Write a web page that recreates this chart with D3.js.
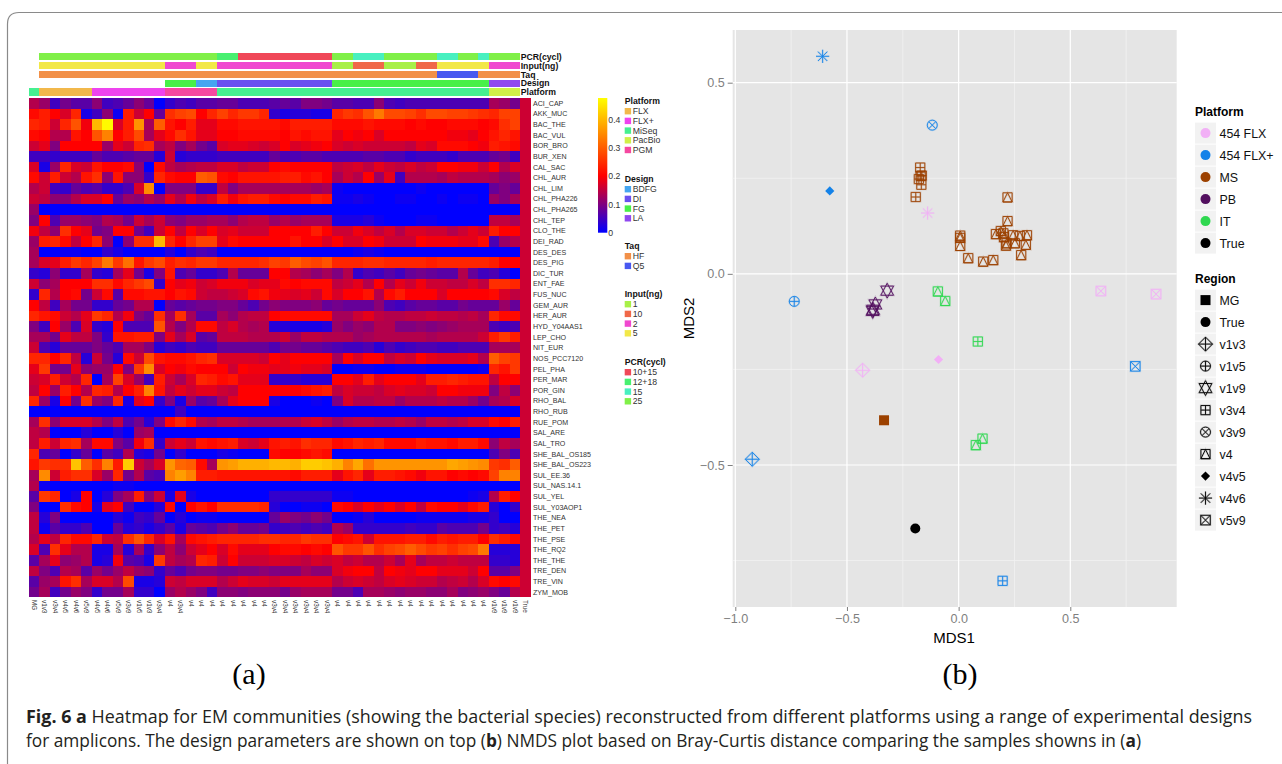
<!DOCTYPE html>
<html>
<head>
<meta charset="utf-8">
<script src="https://cdn.jsdelivr.net/npm/d3@7"></script>
<style>
  html, body { margin: 0; padding: 0; background: #fff; }
  svg { display: block; }
  text { font-family: "Liberation Sans", Arial, sans-serif; }
</style>
</head>
<body>
<script>
const w = 1282, h = 764;

// heatmap rows, top to bottom
const species = ["ACI_CAP","AKK_MUC","BAC_THE","BAC_VUL","BOR_BRO","BUR_XEN","CAL_SAC","CHL_AUR","CHL_LIM","CHL_PHA226","CHL_PHA265","CHL_TEP","CLO_THE","DEI_RAD","DES_DES","DES_PIG","DIC_TUR","ENT_FAE","FUS_NUC","GEM_AUR","HER_AUR","HYD_Y04AAS1","LEP_CHO","NIT_EUR","NOS_PCC7120","PEL_PHA","PER_MAR","POR_GIN","RHO_BAL","RHO_RUB","RUE_POM","SAL_ARE","SAL_TRO","SHE_BAL_OS185","SHE_BAL_OS223","SUL_EE.36","SUL_NAS.14.1","SUL_YEL","SUL_Y03AOP1","THE_NEA","THE_PET","THE_PSE","THE_RQ2","THE_THE","TRE_DEN","TRE_VIN","ZYM_MOB"];

// heatmap columns, left to right
const samples = ["MG","v1v3","v3v4","v4v5","v4v6","v5v9","v4v5","v4v6","v5v9","v3v9","v1v5","v1v3","v3v4","v4","v3v4","v4","v4","v4","v4","v4","v4","v4","v4","v3v4","v3v4","v3v4","v3v4","v3v4","v3v4","v4","v4","v4","v4","v4","v4","v4","v4","v4","v4","v4","v4","v4","v4","v4","v1v9","v1v9","v1v9","True"];

// relative abundance x 100, one row per species
const abundance = [
[14,12,5,9,7,7,11,5,6,8,11,8,0,4,6,5,7,7,8,8,6,6,6,7,8,7,10,10,9,7,7,6,6,11,6,5,6,6,6,6,6,6,6,6,13,12,9,16],
[21,23,20,17,24,2,5,11,1,23,16,20,8,25,27,28,20,24,27,24,26,26,24,4,2,3,3,2,2,24,26,25,29,33,28,28,27,25,28,28,27,27,26,25,24,27,27,16],
[24,23,16,24,29,19,40,47,17,23,36,13,30,22,20,23,18,18,21,21,22,22,22,22,21,23,23,23,23,21,21,21,22,21,21,21,20,21,20,20,21,21,21,20,21,25,27,16],
[21,20,14,14,22,20,29,34,20,23,28,13,18,21,25,22,18,18,20,20,21,21,21,21,20,22,21,22,22,18,20,19,20,17,20,20,20,20,20,20,19,19,18,20,22,24,22,16],
[16,18,10,20,20,20,20,12,18,16,24,25,13,15,10,13,9,7,17,18,18,17,16,17,20,17,18,19,20,17,16,17,16,16,16,16,15,18,17,21,21,21,20,19,23,22,21,16],
[5,5,4,5,5,5,8,6,6,7,8,8,3,16,3,4,4,4,5,5,5,5,5,8,6,6,7,7,6,6,6,6,7,7,6,6,4,5,5,5,4,6,6,6,8,9,5,16],
[17,2,12,24,17,16,22,20,20,21,11,0,21,15,13,14,15,15,17,17,15,16,16,20,21,20,20,20,20,15,16,17,15,18,16,15,17,15,16,20,20,19,19,16,20,14,17,16],
[21,16,23,16,14,22,25,11,22,11,11,4,24,21,20,20,30,29,21,20,22,22,22,22,23,23,21,22,20,13,16,14,20,12,18,5,14,14,14,13,15,14,14,14,13,11,12,16],
[14,16,5,4,8,6,7,4,4,6,17,35,0,10,10,10,4,4,15,10,13,13,13,13,13,13,13,12,13,1,0,0,0,0,0,0,0,1,0,0,0,0,0,0,8,10,8,16],
[16,15,11,11,14,17,17,20,8,12,11,14,12,18,14,19,15,17,23,19,22,23,23,21,20,21,21,23,22,1,1,2,1,0,0,1,1,0,0,1,0,1,1,0,12,10,13,16],
[12,0,0,0,0,0,0,0,0,0,0,0,0,0,0,0,0,0,0,0,0,0,0,0,0,0,0,0,0,0,0,0,0,0,0,0,0,0,0,0,0,0,0,0,0,0,0,16],
[10,20,6,12,12,11,10,14,13,9,16,13,16,11,10,12,12,13,13,11,14,15,15,12,14,12,13,13,13,2,2,2,3,1,0,0,0,1,1,0,0,0,0,0,15,15,13,16],
[19,15,11,25,20,18,9,10,20,20,9,5,16,20,15,20,17,20,17,18,16,16,16,20,20,20,20,23,20,16,16,19,17,15,17,14,17,17,16,16,14,16,18,16,23,20,20,16],
[12,23,24,21,15,20,24,11,0,11,25,25,40,24,20,24,27,27,18,21,20,20,20,20,20,22,20,20,17,20,17,17,20,19,16,16,16,20,19,19,19,18,18,21,6,12,14,16],
[13,0,0,1,1,0,0,4,2,0,0,0,0,3,0,4,6,5,0,0,0,0,0,0,0,0,0,0,0,0,0,1,2,1,0,0,0,0,0,0,0,0,0,0,0,0,0,16],
[13,17,18,23,26,24,27,33,26,32,22,26,28,23,25,24,26,26,24,24,24,24,25,27,26,30,28,27,29,24,24,24,25,25,24,24,24,24,23,24,24,24,24,24,23,20,20,16],
[4,3,11,4,4,13,4,3,13,18,9,2,10,22,6,8,4,4,6,14,8,8,8,20,20,14,13,11,13,10,14,4,6,5,7,5,8,9,8,7,7,14,8,5,6,3,0,16],
[16,11,13,20,20,20,25,25,21,24,26,28,4,20,18,19,16,17,19,19,19,17,18,18,21,20,21,21,21,15,16,18,14,20,14,18,16,19,16,16,15,15,17,15,25,25,24,16],
[4,24,14,20,21,9,16,21,7,21,21,22,22,20,22,21,16,15,15,16,17,21,22,19,18,17,18,16,21,17,20,20,22,14,21,23,20,20,20,17,20,20,20,20,21,17,15,16],
[20,15,5,13,9,9,4,4,8,9,14,14,0,8,7,8,9,9,10,10,8,6,9,11,10,10,10,11,8,9,8,8,8,11,6,5,7,8,8,7,7,9,8,8,8,12,8,16],
[24,22,21,16,14,18,26,24,14,19,10,8,25,13,25,13,7,7,13,11,14,15,15,20,21,21,21,21,21,13,13,16,18,15,14,14,15,15,16,15,15,14,15,13,24,21,21,16],
[10,5,20,12,6,17,4,3,20,6,6,6,29,14,10,14,21,21,15,17,14,13,14,3,3,2,2,2,3,12,10,12,11,14,14,10,10,11,10,11,12,13,13,13,6,5,6,16],
[13,13,9,18,15,15,10,4,22,22,23,23,10,18,13,17,7,8,15,15,15,14,14,14,16,12,15,15,14,14,14,12,13,14,14,14,14,14,13,14,14,14,14,16,23,26,23,16],
[16,6,3,8,8,8,10,8,6,13,13,10,3,5,4,6,5,5,8,8,8,8,8,6,9,9,8,8,7,6,5,5,6,3,6,4,5,6,6,5,5,6,6,6,13,13,13,16],
[24,24,20,24,15,3,16,9,3,21,16,28,22,21,21,22,24,25,17,17,17,17,16,20,18,20,20,20,20,13,20,17,20,20,15,17,16,20,18,17,17,17,18,14,30,27,26,16],
[18,26,9,9,18,11,12,12,20,10,26,35,17,20,19,21,20,20,20,16,20,19,19,18,18,19,18,18,17,0,0,1,1,0,0,1,1,1,0,0,0,0,0,1,24,22,26,16],
[16,17,23,16,14,24,0,13,27,17,12,5,23,16,13,17,24,23,21,22,18,18,18,4,4,4,3,3,3,20,20,18,23,18,20,20,20,18,23,23,24,23,22,22,15,20,20,16],
[15,20,12,23,20,14,24,23,14,20,23,34,22,15,18,16,18,18,16,15,20,20,20,20,20,20,21,22,23,15,17,16,16,15,17,18,17,17,16,20,20,19,19,19,10,15,11,16],
[24,12,2,20,9,25,12,10,24,2,18,20,4,10,2,12,7,8,13,18,20,20,20,2,0,0,0,1,0,10,17,14,14,15,15,12,14,14,14,15,14,14,12,9,13,14,17,16],
[0,0,0,0,0,0,0,0,0,0,0,0,0,0,5,0,0,0,0,0,0,0,0,0,0,0,0,0,0,0,0,0,0,0,0,0,0,0,0,0,0,0,0,0,0,0,0,16],
[13,25,11,17,17,17,14,10,15,6,9,3,10,21,24,21,14,13,15,15,14,13,13,13,14,14,16,17,15,12,14,15,15,14,14,15,14,12,15,15,14,15,17,17,21,20,23,16],
[15,14,0,0,0,3,0,0,3,0,12,13,0,0,0,0,0,0,0,0,0,0,0,0,0,0,0,0,0,0,0,0,0,0,0,0,0,0,0,0,0,0,0,0,0,0,0,16],
[15,23,16,24,25,13,21,21,10,7,19,25,4,16,18,16,22,21,22,23,17,16,18,22,23,22,25,24,24,21,22,24,23,24,21,21,21,23,22,22,21,23,23,21,11,15,13,16],
[24,6,8,0,4,8,0,7,5,14,3,2,9,0,4,0,0,0,2,1,0,0,0,21,20,20,21,22,21,0,0,0,0,0,0,0,0,0,0,0,0,0,0,0,6,10,6,16],
[22,26,25,25,41,30,25,34,23,42,16,13,17,36,31,30,21,13,36,37,39,39,39,40,40,39,42,42,41,39,34,38,32,36,36,36,36,36,36,36,38,37,36,35,26,25,30,16],
[13,35,16,23,25,25,17,12,24,9,14,7,6,34,37,34,23,23,22,22,22,22,22,22,22,21,23,23,23,18,22,24,18,23,23,22,21,19,22,22,20,21,20,21,27,34,34,16],
[14,1,0,0,0,0,0,0,1,1,0,0,0,0,0,0,0,0,0,0,0,0,0,0,0,0,0,0,0,0,0,0,0,0,0,0,0,0,0,0,0,0,0,0,0,0,0,16],
[7,26,24,0,2,20,0,3,10,13,23,10,16,2,18,2,0,0,0,0,0,0,0,4,4,4,4,4,4,1,1,0,0,0,0,0,0,0,0,0,0,0,1,2,14,23,20,16],
[10,0,0,25,21,20,2,18,20,5,0,0,3,21,0,20,22,20,25,25,25,25,24,3,0,0,1,1,0,21,20,17,20,18,20,17,20,15,21,20,20,18,21,23,3,0,4,16],
[15,3,10,0,0,0,0,0,3,1,5,4,8,0,3,0,1,1,0,0,0,0,0,8,12,10,9,11,9,0,0,1,3,0,0,0,0,1,1,1,1,1,2,2,4,0,0,16],
[15,1,7,4,4,6,0,0,8,3,4,2,4,7,2,8,7,6,9,11,8,8,9,4,5,6,5,6,5,14,12,4,4,4,4,4,5,4,4,7,6,6,6,9,4,5,3,16],
[14,18,15,24,21,21,24,16,15,25,29,24,17,22,13,21,22,23,24,24,24,24,25,25,24,24,26,25,25,20,21,22,16,22,22,22,23,23,21,23,22,23,23,20,25,23,21,16],
[17,6,25,18,14,14,2,2,13,3,13,4,11,15,11,16,18,20,17,21,18,18,18,20,21,21,20,21,20,29,26,26,29,25,27,28,30,28,26,27,25,27,28,33,3,3,3,16],
[7,13,18,11,12,14,2,3,19,7,6,2,26,15,13,14,24,23,16,20,16,16,16,17,17,16,15,17,16,17,15,16,14,14,16,13,18,13,15,15,16,15,15,15,4,4,3,16],
[15,10,6,14,13,7,12,9,12,15,12,11,4,8,6,9,10,10,9,9,10,10,11,10,10,10,13,11,11,17,19,20,20,15,20,19,18,20,20,18,18,18,16,20,7,7,10,16],
[7,12,13,22,25,13,17,17,14,28,2,2,3,16,15,17,17,17,14,16,18,17,17,16,18,18,18,18,18,14,16,17,16,15,17,18,17,16,16,14,15,16,14,17,21,20,21,16],
[9,13,5,9,12,10,4,9,9,13,4,4,0,12,14,12,10,5,11,11,10,11,11,11,9,12,13,13,13,9,9,6,13,13,12,11,12,12,11,11,13,10,11,12,10,8,14,16]
];

// annotation tracks above the heatmap, as [level, number of columns]
const pcrRuns = [[null,1],["25",17],["12+18",2],["10+15",9],["25",2],["15",3],["25",5],["15",2],["25",2],["15",1],["25",3]];
const inputRuns = [[null,1],["5",12],["2",3],["5",2],["2",11],["1",2],["10",3],["1",3],["10",2],["5",5],["2",3]];
const taqRuns = [[null,1],["HF",38],["Q5",4],["HF",4]];
const designRuns = [[null,13],["FG",3],["BDFG",2],["DI",11],["FG",15],["LA",3]];
const platformRuns = [["MiSeq",1],["FLX",5],["FLX+",7],["PGM",5],["MiSeq",26],["PacBio",3]];

const trackNames = ["PCR(cycl)","Input(ng)","Taq","Design","Platform"];
const legendOrder = ["Platform","Design","Taq","Input(ng)","PCR(cycl)"];
const levels = {
  "Platform": ["FLX","FLX+","MiSeq","PacBio","PGM"],
  "Design": ["BDFG","DI","FG","LA"],
  "Taq": ["HF","Q5"],
  "Input(ng)": ["1","10","2","5"],
  "PCR(cycl)": ["10+15","12+18","15","25"]
};
const levelColors = {
  "Platform": ["#f2b84b","#ee44ee","#45f090","#d0f048","#f548a0"],
  "Design": ["#45a5f0","#6a50f0","#48f048","#9048f0"],
  "Taq": ["#f29048","#4858f0"],
  "Input(ng)": ["#a8f048","#f06848","#f048d0","#f2e848"],
  "PCR(cycl)": ["#f04858","#48f070","#48f0c0","#80f048"]
};

// NMDS points
const mdsPlatform = ["454 FLX+","454 FLX+","MS","MS","MS","MS","MS","MS","454 FLX+","454 FLX","454 FLX+","PB","PB","PB","PB","IT","IT",
  "MS","MS","MS","MS","MS","MS","MS","MS","MS","MS","MS","MS","MS","MS","MS","MS","MS","MS","MS","MS",
  "IT","454 FLX","454 FLX","454 FLX+","MS","IT","IT","454 FLX+","True","454 FLX+","454 FLX","454 FLX"];
const mdsRegion = ["v4v6","v3v9","v3v4","v3v4","v3v4","v3v4","v3v4","v3v4","v4v5","v4v6","v1v5","v1v9","v1v9","v1v9","v1v9","v4","v4",
  "v4","v4","v4","v4","v4","v4","v4","v4","v4","v4","v4","v4","v4","v4","v4","v4","v4","v4","v4","v4",
  "v3v4","v4v5","v1v3","v5v9","MG","v4","v4","v1v3","True","v3v4","v5v9","v5v9"];
const mds1 = [-.609,-.118,-.172,-.178,-.170,-.165,-.167,-.192,-.577,-.139,-.736,-.32,-.373,-.385,-.383,-.093,-.06,
  .219,.219,.007,.007,.007,.043,.11,.155,.167,.189,.2,.203,.212,.215,.244,.252,.274,.306,.301,.28,
  .086,-.09,-.43,.791,-.334,.107,.077,-.924,-.194,.197,.637,.884];
const mds2 = [.569,.389,.278,.248,.256,.257,.233,.201,.217,.159,-.072,-.044,-.08,-.097,-.094,-.046,-.071,
  .2,.138,.1,.094,.073,.041,.032,.036,.104,.112,.106,.096,.074,.08,.101,.08,.099,.101,.076,.049,
  -.177,-.224,-.252,-.242,-.383,-.431,-.448,-.485,-.666,-.803,-.045,-.053];

const platformNames = ["454 FLX","454 FLX+","MS","PB","IT","True"];
const platformColors = ["#f2b0f6","#1482e8","#9c4100","#520f5f","#2fd850","#000000"];
const regionNames = ["MG","True","v1v3","v1v5","v1v9","v3v4","v3v9","v4","v4v5","v4v6","v5v9"];

const svg = d3.select("body").append("svg").attr("width", w).attr("height", h);

// page frame
svg.append("path")
    .attr("d", "M7.5,764V24Q7.5,12.5 19,12.5H1282")
    .attr("fill", "none")
    .attr("stroke", "#8a8a8a")
    .attr("stroke-width", 1.2);

// ---- heatmap ----
const colX = d3.scaleBand().domain(d3.range(samples.length)).range([29, 530.7]);
const rowY = d3.scaleBand().domain(d3.range(species.length)).range([98, 597.5]);
const heatColor = d3.scaleLinear().domain([0, .2, .475]).range(["#0000ff", "#ff0000", "#ffff00"]);

const rows = svg.selectAll(".row")
    .data(abundance)
    .enter().append("g")
    .attr("class", "row")
    .attr("transform", function (d, i) { return "translate(0," + rowY(i) + ")"; });

rows.selectAll("rect")
    .data(function (d) { return d; })
    .enter().append("rect")
    .attr("x", function (d, i) { return colX(i); })
    .attr("width", colX.bandwidth())
    .attr("height", rowY.bandwidth())
    .attr("shape-rendering", "crispEdges")
    .attr("fill", function (d) { return heatColor(d / 100); });

svg.selectAll(".rowLabel")
    .data(species)
    .enter().append("text")
    .attr("class", "rowLabel")
    .text(function (d) { return d; })
    .attr("x", 533)
    .attr("y", function (d, i) { return rowY(i) + rowY.bandwidth() / 2 + 2.5; })
    .attr("font-size", 7.1)
    .attr("fill", "#333");

svg.selectAll(".colLabel")
    .data(samples)
    .enter().append("text")
    .attr("class", "colLabel")
    .text(function (d) { return d; })
    .attr("transform", function (d, i) {
      return "translate(" + (colX(i) + colX.bandwidth() / 2 - 2.2) + ",600) rotate(90)";
    })
    .attr("font-size", 6.3)
    .attr("fill", "#333");

// annotation tracks
const trackRuns = [pcrRuns, inputRuns, taqRuns, designRuns, platformRuns];
const trackY = d3.scalePoint().domain(trackNames).range([53, 88.4]);

trackNames.forEach(function (name, t) {
  const color = d3.scaleOrdinal().domain(levels[name]).range(levelColors[name]);
  let col = 0;
  const spans = trackRuns[t].map(function (r) {
    const s = { level: r[0], start: col, n: r[1] };
    col += r[1];
    return s;
  }).filter(function (s) { return s.level !== null; });

  svg.append("g").selectAll("rect")
      .data(spans)
      .enter().append("rect")
      .attr("x", function (d) { return colX(d.start); })
      .attr("y", trackY(name))
      .attr("width", function (d) { return colX.step() * d.n; })
      .attr("height", 7.4)
      .attr("shape-rendering", "crispEdges")
      .attr("fill", function (d) { return color(d.level); });

  svg.append("text")
      .text(name)
      .attr("x", 520.7)
      .attr("y", trackY(name) + 6.8)
      .attr("font-size", 8.7)
      .attr("font-weight", "bold")
      .attr("fill", "#111");
});

// colour bar
const barY = d3.scaleLinear().domain([0, .475]).range([232.7, 98]);
const defs = svg.append("defs");
const grad = defs.append("linearGradient").attr("id", "heatBar")
    .attr("x1", 0).attr("y1", 1).attr("x2", 0).attr("y2", 0);
heatColor.domain().forEach(function (v) {
  grad.append("stop").attr("offset", v / .475).attr("stop-color", heatColor(v));
});
svg.append("rect")
    .attr("x", 598).attr("y", barY(.475))
    .attr("width", 9.3).attr("height", barY(0) - barY(.475))
    .attr("fill", "url(#heatBar)");

const barAxis = d3.axisRight(barY).tickValues([0, .1, .2, .3, .4])
    .tickFormat(function (d) { return d === 0 ? "0" : d.toFixed(1); })
    .tickSize(0).tickPadding(1);
const barG = svg.append("g").attr("transform", "translate(607.3,0)").call(barAxis);
barG.select(".domain").remove();
barG.selectAll("text").attr("font-size", 8.7).attr("fill", "#333").attr("font-family", null);

// heatmap legends
const legendTop = { "Platform": 101, "Design": 179, "Taq": 246, "Input(ng)": 294, "PCR(cycl)": 362 };
legendOrder.forEach(function (name) {
  const g = svg.append("g").attr("transform", "translate(624.7," + legendTop[name] + ")");
  g.append("text").text(name)
      .attr("y", 3)
      .attr("font-size", 8.7)
      .attr("font-weight", "bold")
      .attr("fill", "#111");
  const item = g.selectAll(".item")
      .data(levels[name])
      .enter().append("g")
      .attr("class", "item")
      .attr("transform", function (d, i) { return "translate(0," + (10.2 + i * 9.7) + ")"; });
  item.append("rect")
      .attr("y", -3.2)
      .attr("width", 6.4).attr("height", 6.4)
      .attr("fill", function (d, i) { return levelColors[name][i]; });
  item.append("text").text(function (d) { return d; })
      .attr("x", 8)
      .attr("y", 3.1)
      .attr("font-size", 8.7)
      .attr("fill", "#333");
});

// ---- NMDS panel ----
const panel = { left: 732.7, right: 1176.7, top: 30, bottom: 607 };
const x = d3.scaleLinear().domain([-1, .5]).range([735.3, 1070.3]);
const y = d3.scaleLinear().domain([-.5, .5]).range([465, 82.7]);

svg.append("rect")
    .attr("x", panel.left).attr("y", panel.top)
    .attr("width", panel.right - panel.left).attr("height", panel.bottom - panel.top)
    .attr("fill", "#e5e5e5");

const xMinor = [-.75, -.25, .25, .75], yMinor = [-.75, -.25, .25];
const xMajor = [-1, -.5, 0, .5], yMajor = [-.5, 0, .5];

function vgrid(vals, width, color) {
  svg.append("g").selectAll("line").data(vals).enter().append("line")
      .attr("x1", x).attr("x2", x)
      .attr("y1", panel.top).attr("y2", panel.bottom)
      .attr("stroke", color).attr("stroke-width", width);
}
function hgrid(vals, width, color) {
  svg.append("g").selectAll("line").data(vals).enter().append("line")
      .attr("y1", y).attr("y2", y)
      .attr("x1", panel.left).attr("x2", panel.right)
      .attr("stroke", color).attr("stroke-width", width);
}
vgrid(xMinor, .8, "#f2f2f2");
hgrid(yMinor, .8, "#f2f2f2");
vgrid(xMajor, 1.2, "#ffffff");
hgrid(yMajor, 1.2, "#ffffff");

const xAxis = d3.axisBottom(x).tickValues(xMajor).tickFormat(d3.format(".1f")).tickSize(4).tickPadding(3);
const yAxis = d3.axisLeft(y).tickValues(yMajor).tickFormat(d3.format(".1f")).tickSize(5).tickPadding(3);
[svg.append("g").attr("transform", "translate(0," + panel.bottom + ")").call(xAxis),
 svg.append("g").attr("transform", "translate(" + panel.left + ",0)").call(yAxis)].forEach(function (g) {
  g.select(".domain").remove();
  g.selectAll("line").attr("stroke", "#7f7f7f");
  g.selectAll("text").attr("font-size", 12.6).attr("fill", "#7f7f7f").attr("font-family", null);
});

svg.append("text").text("MDS1")
    .attr("x", 954).attr("y", 643)
    .attr("text-anchor", "middle")
    .attr("font-size", 15);
svg.append("text").text("MDS2")
    .attr("transform", "translate(694,318.5) rotate(-90)")
    .attr("text-anchor", "middle")
    .attr("font-size", 15);

// ggplot style point shapes, drawn around 0,0
function shapePath(region) {
  const p = d3.path();
  function plus(r) { p.moveTo(-r, 0); p.lineTo(r, 0); p.moveTo(0, -r); p.lineTo(0, r); }
  function cross(r) { p.moveTo(-r, -r); p.lineTo(r, r); p.moveTo(-r, r); p.lineTo(r, -r); }
  function square(r) { p.rect(-r, -r, 2 * r, 2 * r); }
  function circle(r) { p.moveTo(r, 0); p.arc(0, 0, r, 0, 2 * Math.PI); }
  function tri(sx, rx, ry) {
    p.moveTo(0, -sx * ry); p.lineTo(rx, sx * ry * .62); p.lineTo(-rx, sx * ry * .62); p.closePath();
  }
  if (region === "MG") square(5);
  else if (region === "True") circle(5);
  else if (region === "v1v3") { p.moveTo(-7, 0); p.lineTo(0, -7); p.lineTo(7, 0); p.lineTo(0, 7); p.closePath(); plus(7); }
  else if (region === "v1v5") { circle(5); plus(5); }
  else if (region === "v1v9") { tri(1, 6.4, 7.4); tri(-1, 6.4, 7.4); }
  else if (region === "v3v4") { square(4.6); plus(4.6); }
  else if (region === "v3v9") { circle(5); cross(3.5); }
  else if (region === "v4") { square(4.6); p.moveTo(0, -4.6); p.lineTo(4.6, 4.6); p.lineTo(-4.6, 4.6); p.closePath(); }
  else if (region === "v4v5") { p.moveTo(-4.6, 0); p.lineTo(0, -4.6); p.lineTo(4.6, 0); p.lineTo(0, 4.6); p.closePath(); }
  else if (region === "v4v6") { plus(6.6); cross(4.7); }
  else if (region === "v5v9") { square(4.8); cross(4.8); }
  return p.toString();
}
const filled = ["MG", "True", "v4v5"];
const pColor = d3.scaleOrdinal().domain(platformNames).range(platformColors);

function drawMark(sel, region, color) {
  if (filled.indexOf(region) >= 0) {
    sel.append("path").attr("d", shapePath(region)).attr("fill", color);
  } else {
    sel.append("path").attr("d", shapePath(region))
        .attr("fill", "none").attr("stroke", color)
        .attr("stroke-width", 2).attr("stroke-opacity", .2);
    sel.append("path").attr("d", shapePath(region))
        .attr("fill", "none").attr("stroke", color)
        .attr("stroke-width", .9);
  }
}

mds1.forEach(function (v, i) {
  const g = svg.append("g").attr("transform", "translate(" + x(v) + "," + y(mds2[i]) + ")");
  drawMark(g, mdsRegion[i], pColor(mdsPlatform[i]));
});

// right hand legends
function keyLegend(title, titleY, names, draw) {
  svg.append("text").text(title)
      .attr("x", 1195).attr("y", titleY)
      .attr("font-size", 12)
      .attr("font-weight", "bold");
  const item = svg.selectAll(".key" + title)
      .data(names)
      .enter().append("g")
      .attr("transform", function (d, i) { return "translate(1195," + (titleY + 6.6 + i * 22) + ")"; });
  item.append("rect")
      .attr("width", 21).attr("height", 21)
      .attr("fill", "#f2f2f2");
  item.each(function (d, i) {
    const g = d3.select(this).append("g").attr("transform", "translate(10.5,10.5)");
    draw(g, d, i);
  });
  item.append("text").text(function (d) { return d; })
      .attr("x", 24.5).attr("y", 15.2)
      .attr("font-size", 12.4)
      .attr("fill", "#111");
}
keyLegend("Platform", 116, platformNames, function (g, d) {
  g.append("circle").attr("r", 5).attr("fill", pColor(d));
});
keyLegend("Region", 283, regionNames, function (g, d) {
  drawMark(g, d, "#000");
});

// sub figure labels
svg.selectAll(".subLabel")
    .data([["(a)", 249], ["(b)", 960]])
    .enter().append("text")
    .text(function (d) { return d[0]; })
    .attr("x", function (d) { return d[1]; })
    .attr("y", 684)
    .attr("text-anchor", "middle")
    .style("font-family", "'Liberation Serif', serif")
    .attr("font-size", 30);

// caption
const captionLines = [
  { len: 1226, parts: [["Fig. 6 a", true], [" Heatmap for EM communities (showing the bacterial species) reconstructed from different platforms using a range of experimental designs", false]] },
  { len: 1115, parts: [["for amplicons. The design parameters are shown on top (", false], ["b", true], [") NMDS plot based on Bray-Curtis distance comparing the samples showns in (", false], ["a", true], [")", false]] }
];
captionLines.forEach(function (line, i) {
  const t = svg.append("text")
      .attr("x", 26)
      .attr("y", 723 + i * 24)
      .attr("textLength", line.len)
      .attr("lengthAdjust", "spacingAndGlyphs")
      .style("font-family", "'Open Sans', sans-serif")
      .attr("font-size", 18)
      .attr("fill", "#231f20");
  line.parts.forEach(function (p) {
    t.append("tspan").text(p[0]).attr("font-weight", p[1] ? "bold" : "normal");
  });
});
</script>
</body>
</html>
